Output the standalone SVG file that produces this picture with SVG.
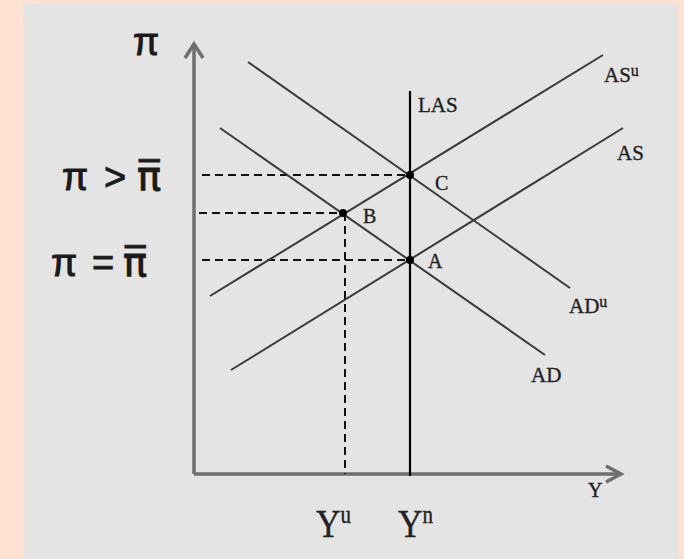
<svg xmlns="http://www.w3.org/2000/svg" width="684" height="559" viewBox="0 0 684 559">
<style>
.curve{stroke:#3a3a3a;stroke-width:2;fill:none}
.axis{stroke:#6e6e6e;stroke-width:3.5;fill:none}
.dash{stroke:#111;stroke-width:2;stroke-dasharray:8,5;fill:none}
.lbl{font-family:"Liberation Serif","DejaVu Serif",serif;fill:#222;stroke:#222;stroke-width:0.35}
.pi{font-family:"Liberation Sans","DejaVu Sans",sans-serif;fill:#1a1a1a;stroke:#1a1a1a;stroke-width:0.9}
.pibar{font-family:"DejaVu Sans",sans-serif;font-size:40px}
.dot{fill:#000}
</style>
<rect x="0" y="0" width="684" height="559" fill="#fde2d3"/>
<rect x="23" y="4" width="655" height="555" fill="#e4e4e4"/>
<g id="axes">
<polyline class="axis" points="194,474 194,46"/>
<polyline class="axis" points="194,474 620,474"/>
<polyline class="axis" points="185,58 194,44 203,58" stroke-width="2.5"/>
<polyline class="axis" points="606,466 621,474 606,482" stroke-width="2.5"/>
</g>
<g id="connectors">
<line class="dash" x1="202" y1="175" x2="410" y2="175"/>
<line class="dash" x1="199" y1="213" x2="343" y2="213"/>
<line class="dash" x1="202" y1="260" x2="410" y2="260"/>
<line class="dash" x1="345" y1="213" x2="345" y2="474"/>
</g>
<g id="LAS"><line x1="410" y1="91" x2="410" y2="476" stroke="#000" stroke-width="2.2"/>
<text class="lbl" x="418" y="112" font-size="21">LAS</text></g>
<g id="ADu"><line class="curve" x1="248" y1="62" x2="570" y2="288"/>
<text class="lbl" x="569" y="313" font-size="21">AD<tspan font-size="16" dy="-6">u</tspan></text></g>
<g id="AD"><line class="curve" x1="220" y1="128" x2="545" y2="355"/>
<text class="lbl" x="531" y="382" font-size="21">AD</text></g>
<g id="ASu"><line class="curve" x1="210" y1="296" x2="603" y2="55"/>
<text class="lbl" x="604" y="82" font-size="21">AS<tspan font-size="16" dy="-6">u</tspan></text></g>
<g id="AS"><line class="curve" x1="231" y1="370" x2="623" y2="128"/>
<text class="lbl" x="617" y="160" font-size="21">AS</text></g>
<g id="pointC"><circle class="dot" cx="410" cy="175" r="4"/><text class="lbl" x="435" y="190" font-size="20">C</text></g>
<g id="pointB"><circle class="dot" cx="343" cy="213" r="4"/><text class="lbl" x="363" y="223" font-size="20">B</text></g>
<g id="pointA"><circle class="dot" cx="410" cy="260" r="4"/><text class="lbl" x="428" y="268" font-size="20">A</text></g>
<g id="labels">
<text class="pi" x="133" y="55" font-size="38">π</text>
<text class="pi" x="62" y="190" font-size="38">π <tspan x="104">&gt;</tspan><tspan class="pibar" x="137">π̅</tspan></text>
<text class="pi" x="51" y="276" font-size="38">π <tspan x="92">=</tspan><tspan class="pibar" x="123">π̅</tspan></text>
<text class="lbl" x="588" y="497" font-size="20">Y</text>
<text class="lbl" x="316" y="537" font-size="34" transform="translate(0,537) scale(1,1.2) translate(0,-537)">Y<tspan font-size="21" dy="-12">u</tspan></text>
<text class="lbl" x="398" y="537" font-size="34" transform="translate(0,537) scale(1,1.2) translate(0,-537)">Y<tspan font-size="21" dy="-12">n</tspan></text>
</g>
</svg>
